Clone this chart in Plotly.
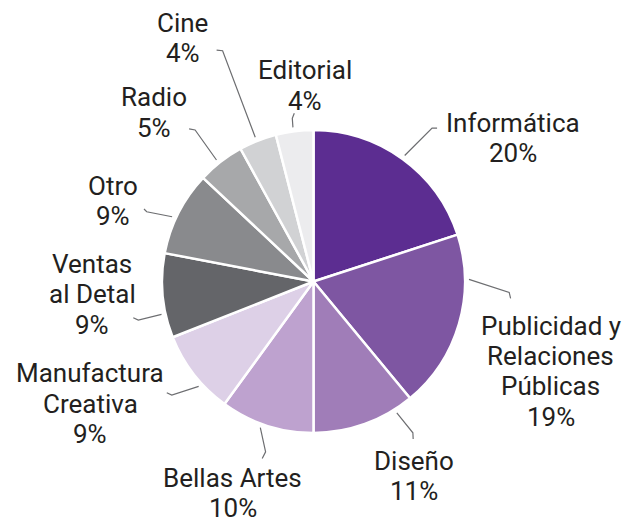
import math
import plotly.graph_objects as go

# ---- data ----
categories = ["Informática", "Publicidad y<br>Relaciones<br>Públicas", "Diseño", "Bellas Artes",
              "Manufactura<br>Creativa", "Ventas<br>al Detal", "Otro", "Radio", "Cine", "Editorial"]
shares = [20, 19, 11, 10, 9, 9, 9, 5, 4, 4]
colors = ["#5c2d91", "#7e56a2", "#a07db8", "#bea2cf", "#ddd0e7",
          "#646569", "#898a8d", "#a7a8aa", "#d1d2d4", "#ececee"]

# ---- layout constants (pixels) ----
W, H = 624, 523
CX, CY, R = 313.5, 281.5, 151.5
FONT = "Roboto"
FS = 26
LINE_H = 30.4
TEXT_COLOR = "#231f20"
LEADER_COLOR = "#6d6e71"

# per-slice leader layout: start angle offset, end angle offset (deg from slice mid),
# end radius, hook (dx, dy), label offset from hook end (dx, dy)
leader = [
    (-0.1, 1.7, 193.9, (5, 0), (76, -5.5)),
    (-17.0, -13.0, 196.0, (1.4, 6), (40.3, 27.2)),
    (-12.6, -13.5, 181.0, (0.3, 6.3), (1, 21.5)),
    (2.0, -2.3, 177.0, (-3.4, 6.6), (-29.3, 19.2)),
    (-4.6, -0.9, 181.6, (-5, -2.3), (-76.7, -19.4)),
    (-6.8, -7.0, 179.4, (-5, -2.3), (-40.8, -54)),
    (-2.4, -4.3, 180.8, (-2.7, -2.7), (-31.5, -23.5)),
    (-0.8, -0.2, 192.3, (-6, -1), (-35.5, -31.5)),
    (-0.4, 0.1, 248.0, (-6, -0.7), (-33.7, -27.5)),
    (-0.4, -0.2, 164.6, (2, -5), (10.7, -42.8)),
]


def px(x):
    return x / W


def py(y):
    return 1 - y / H


def polar(angle_deg, r):
    a = math.radians(angle_deg)
    return CX + r * math.sin(a), CY - r * math.cos(a)


fig = go.Figure(go.Pie(
    labels=[c.replace("<br>", " ") for c in categories],
    values=shares,
    sort=False,
    direction="clockwise",
    rotation=0,
    marker=dict(colors=colors, line=dict(color="white", width=2.5)),
    textinfo="none",
    hoverinfo="label+percent",
    showlegend=False,
    domain=dict(x=[px(CX - R), px(CX + R)], y=[py(CY + R), py(CY - R)]),
))

total = sum(shares)
cum = 0
shapes = []
annotations = []
for cat, v, (s_off, e_off, e_r, hook, lab) in zip(categories, shares, leader):
    mid = (cum + v / 2) / total * 360
    cum += v
    x0, y0 = polar(mid + s_off, R + 4)
    x1, y1 = polar(mid + e_off, e_r)
    x2, y2 = x1 + hook[0], y1 + hook[1]
    path = f"M {px(x0)},{py(y0)} L {px(x1)},{py(y1)} L {px(x2)},{py(y2)}"
    shapes.append(dict(type="path", xref="paper", yref="paper", path=path,
                       line=dict(color=LEADER_COLOR, width=1.2)))
    lx, ly = x2 + lab[0], y2 + lab[1]
    lines = cat.split("<br>") + [f"{v}%"]
    for i, t in enumerate(lines):
        annotations.append(dict(
            x=px(lx), y=py(ly + i * LINE_H), xref="paper", yref="paper",
            text=t, showarrow=False, xanchor="center", yanchor="middle",
            font=dict(family=FONT, size=FS, color=TEXT_COLOR),
        ))

fig.update_layout(
    width=W, height=H,
    margin=dict(l=0, r=0, t=0, b=0),
    paper_bgcolor="white", plot_bgcolor="white",
    shapes=shapes, annotations=annotations,
)

fig.write_html("out.html", config={"displayModeBar": False},
               post_script="document.body.style.margin='0';document.body.style.padding='0';")
